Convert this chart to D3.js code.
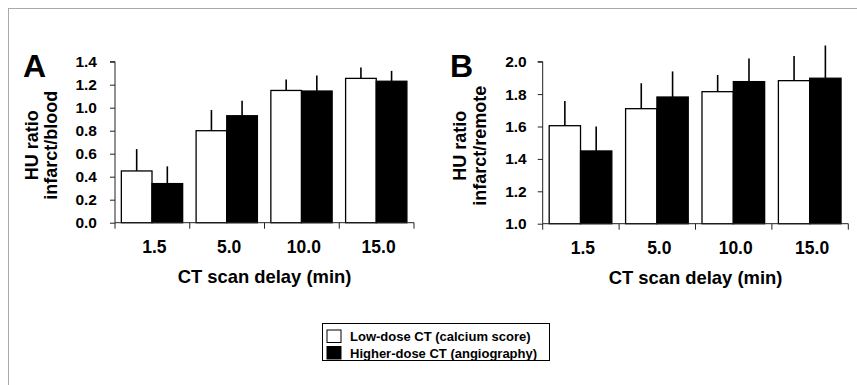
<!DOCTYPE html>
<html>
<head>
<meta charset="utf-8">
<script src="https://cdn.jsdelivr.net/npm/d3@7"></script>
<style>
  body { margin: 0; background: #fff; }
  svg text { font-family: "Liberation Sans", Arial, sans-serif; font-weight: bold; }
</style>
</head>
<body>
<svg width="857" height="385"></svg>
<script>
let delays = ['1.5', '5.0', '10.0', '15.0'];
let seriesNames = ['Low-dose CT (calcium score)', 'Higher-dose CT (angiography)'];
let seriesFill = ['#fff', '#000'];

// panel A: infarct/blood
let lowA = [0.45, 0.80, 1.15, 1.255];
let lowAErr = [0.64, 0.98, 1.245, 1.35];
let highA = [0.34, 0.93, 1.145, 1.23];
let highAErr = [0.49, 1.06, 1.28, 1.32];

// panel B: infarct/remote
let lowB = [1.605, 1.71, 1.815, 1.883];
let lowBErr = [1.757, 1.867, 1.918, 2.035];
let highB = [1.449, 1.782, 1.877, 1.898];
let highBErr = [1.60, 1.94, 2.02, 2.10];

let ticksA = [0, 0.2, 0.4, 0.6, 0.8, 1.0, 1.2, 1.4];
let ticksB = [1.0, 1.2, 1.4, 1.6, 1.8, 2.0];

const svg = d3.select('svg');

// outer frame (only left/top edges fall inside the picture)
svg.append('rect')
    .attr('x', 8.5).attr('y', 8.5)
    .attr('width', 900).attr('height', 400)
    .attr('fill', 'none')
    .attr('stroke', '#aaa');

function drawPanel(opt) {
  let g = svg.append('g');
  let x0 = d3.scaleBand().domain(delays).range([opt.left, opt.right]);
  let x1 = d3.scaleBand().domain([0, 1])
              .range([x0.bandwidth() * 0.085, x0.bandwidth() * 0.905]);
  let y = d3.scaleLinear().domain(opt.domain).range([opt.bottom, opt.top]);

  let rows = [];
  delays.forEach((d, i) => {
    rows.push({cat: d, s: 0, v: opt.low[i], e: opt.lowErr[i]});
    rows.push({cat: d, s: 1, v: opt.high[i], e: opt.highErr[i]});
  });

  // error whiskers (upward only, no caps)
  g.selectAll('line.err')
    .data(rows)
    .enter()
    .append('line')
      .attr('class', 'err')
      .attr('x1', d => x0(d.cat) + x1(d.s) + x1.bandwidth() / 2)
      .attr('x2', d => x0(d.cat) + x1(d.s) + x1.bandwidth() / 2)
      .attr('y1', d => y(d.v))
      .attr('y2', d => y(d.e))
      .attr('stroke', '#000')
      .attr('stroke-width', 1.6);

  g.selectAll('rect.bar')
    .data(rows)
    .enter()
    .append('rect')
      .attr('class', 'bar')
      .attr('x', d => x0(d.cat) + x1(d.s))
      .attr('y', d => y(d.v))
      .attr('width', x1.bandwidth())
      .attr('height', d => y(opt.domain[0]) - y(d.v))
      .attr('fill', d => seriesFill[d.s])
      .attr('stroke', '#000')
      .attr('stroke-width', 1.3);

  // y axis
  let yAxis = d3.axisLeft(y).tickValues(opt.ticks)
                .tickFormat(d3.format('.1f')).tickSize(5).tickPadding(opt.pad);
  let ya = g.append('g').attr('transform', `translate(${opt.left},0)`).call(yAxis);
  ya.attr('font-size', null).attr('font-family', null);
  ya.select('.domain').attr('d', `M-5,${y(opt.domain[1])}H0V${opt.bottom}`).attr('stroke', '#222');
  ya.selectAll('.tick line').attr('stroke', '#222');
  ya.selectAll('.tick text')
    .style('font-size', '15.5px')
    .attr('fill', '#000');

  // x axis: ticks at band edges
  let xa = g.append('g').attr('transform', `translate(0,${opt.bottom})`);
  xa.append('line')
    .attr('x1', opt.left).attr('x2', opt.right)
    .attr('stroke', '#222');
  xa.selectAll('line.tk')
    .data(delays.concat(['end']))
    .enter()
    .append('line')
      .attr('class', 'tk')
      .attr('x1', (d, i) => i < delays.length ? x0(d) : opt.right)
      .attr('x2', (d, i) => i < delays.length ? x0(d) : opt.right)
      .attr('y1', 0).attr('y2', 6)
      .attr('stroke', '#222');
  xa.selectAll('text')
    .data(delays)
    .enter()
    .append('text')
      .attr('x', d => x0(d) + x0.bandwidth() / 2 + 2)
      .attr('y', 30.5)
      .attr('text-anchor', 'middle')
      .style('font-size', '17.5px')
      .text(d => d);

  g.append('text')
    .attr('x', (opt.left + opt.right) / 2)
    .attr('y', opt.bottom + 60)
    .attr('text-anchor', 'middle')
    .style('font-size', '18.4px')
    .text('CT scan delay (min)');

  // y title, two lines
  let ty = g.append('text')
    .attr('transform', `translate(${opt.titleX},${(opt.top + opt.bottom) / 2 + 3}) rotate(-90)`)
    .attr('text-anchor', 'middle')
    .style('font-size', '18px');
  ty.append('tspan').attr('x', 0).attr('y', 0).text('HU ratio');
  ty.append('tspan').attr('x', 0).attr('y', 19.5).text(opt.ylab);

  // panel letter
  g.append('text')
    .attr('x', opt.letterX)
    .attr('y', 77)
    .style('font-size', '32px')
    .text(opt.letter);
}

drawPanel({
  left: 115, right: 414, top: 61.7, bottom: 222.7,
  domain: [0, 1.4], ticks: ticksA, pad: 13,
  low: lowA, lowErr: lowAErr, high: highA, highErr: highAErr,
  ylab: 'infarct/blood', titleX: 37.5, letter: 'A', letterX: 23
});

drawPanel({
  left: 542.7, right: 848.3, top: 61.7, bottom: 223.7,
  domain: [1.0, 2.0], ticks: ticksB, pad: 11,
  low: lowB, lowErr: lowBErr, high: highB, highErr: highBErr,
  ylab: 'infarct/remote', titleX: 466, letter: 'B', letterX: 450
});

// legend
let lg = svg.append('g');
lg.append('rect')
  .attr('x', 322.5).attr('y', 323.5)
  .attr('width', 227).attr('height', 37)
  .attr('fill', '#fff').attr('stroke', '#000');
let items = lg.selectAll('g.item')
  .data(seriesNames)
  .enter()
  .append('g')
    .attr('transform', (d, i) => `translate(327,${330 + i * 16.5})`);
items.append('rect')
  .attr('width', 14).attr('height', 12.5)
  .attr('fill', (d, i) => seriesFill[i])
  .attr('stroke', '#000');
items.append('text')
  .attr('x', 23).attr('y', 11)
  .style('font-size', '13px')
  .text(d => d);
</script>
</body>
</html>
